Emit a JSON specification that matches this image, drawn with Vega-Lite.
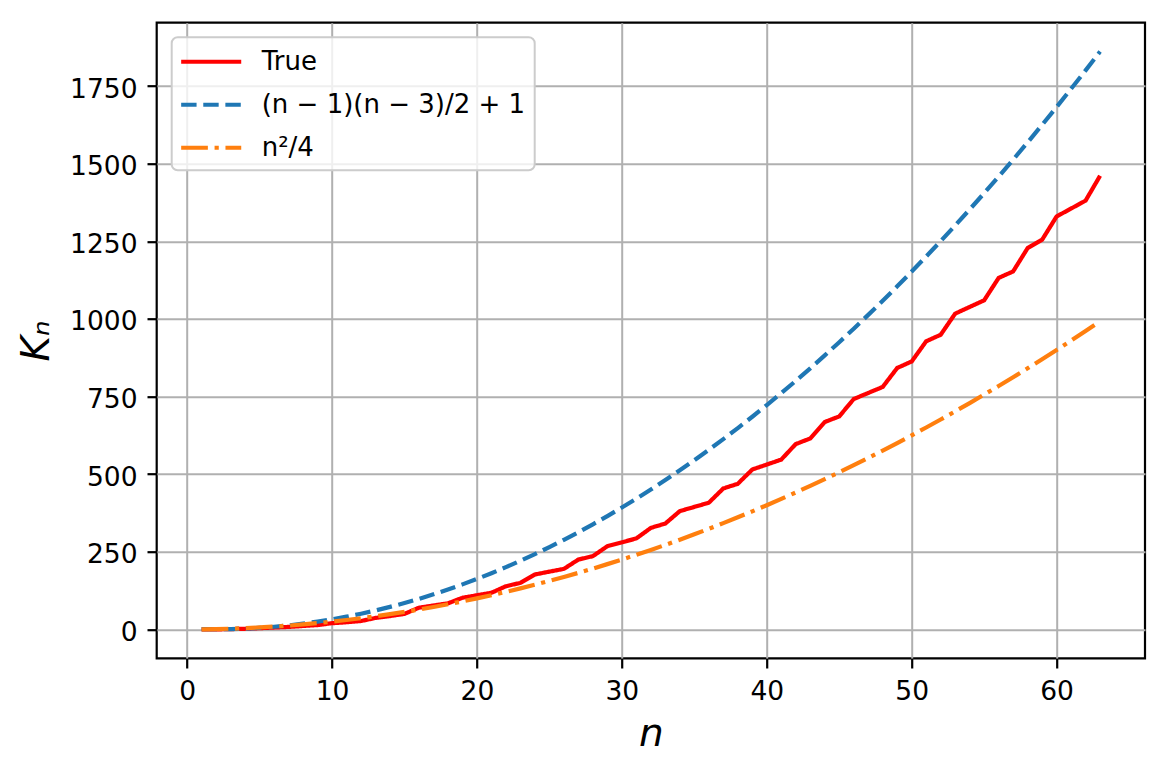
{
  "$schema": "https://vega.github.io/schema/vega-lite/v6.json",
  "autosize": {"type": "none"},
  "padding": {"left": 156.7, "top": 22.7, "right": 23, "bottom": 112.7},
  "width": 988.3,
  "height": 635.6,
  "background": "white",
  "config": {
    "font": "DejaVu Sans",
    "view": {"stroke": "black", "strokeWidth": 2.2},
    "axis": {
      "domain": false,
      "grid": true,
      "gridColor": "#b0b0b0",
      "gridWidth": 2,
      "tickColor": "black",
      "tickWidth": 2.2,
      "tickSize": 9.7,
      "labelFont": "DejaVu Sans",
      "labelFontSize": 26.5,
      "labelColor": "black",
      "titleFont": "DejaVu Sans",
      "titleFontSize": 39,
      "titleFontStyle": "italic",
      "titleFontWeight": "normal",
      "titleColor": "black"
    }
  },
  "data": {
    "values": [
      {"n": 1, "series": "a", "K": 0},
      {"n": 2, "series": "a", "K": 0},
      {"n": 3, "series": "a", "K": 1},
      {"n": 4, "series": "a", "K": 2},
      {"n": 5, "series": "a", "K": 4},
      {"n": 6, "series": "a", "K": 6},
      {"n": 7, "series": "a", "K": 8},
      {"n": 8, "series": "a", "K": 11},
      {"n": 9, "series": "a", "K": 14},
      {"n": 10, "series": "a", "K": 20},
      {"n": 11, "series": "a", "K": 23},
      {"n": 12, "series": "a", "K": 27},
      {"n": 13, "series": "a", "K": 37},
      {"n": 14, "series": "a", "K": 43},
      {"n": 15, "series": "a", "K": 50},
      {"n": 16, "series": "a", "K": 70},
      {"n": 18, "series": "a", "K": 84},
      {"n": 19, "series": "a", "K": 102},
      {"n": 21, "series": "a", "K": 118},
      {"n": 22, "series": "a", "K": 139},
      {"n": 23, "series": "a", "K": 150},
      {"n": 24, "series": "a", "K": 177},
      {"n": 26, "series": "a", "K": 195},
      {"n": 27, "series": "a", "K": 225},
      {"n": 28, "series": "a", "K": 236},
      {"n": 29, "series": "a", "K": 268},
      {"n": 31, "series": "a", "K": 293},
      {"n": 32, "series": "a", "K": 327},
      {"n": 33, "series": "a", "K": 341},
      {"n": 34, "series": "a", "K": 381},
      {"n": 36, "series": "a", "K": 408},
      {"n": 37, "series": "a", "K": 454},
      {"n": 38, "series": "a", "K": 469},
      {"n": 39, "series": "a", "K": 515},
      {"n": 41, "series": "a", "K": 547},
      {"n": 42, "series": "a", "K": 597},
      {"n": 43, "series": "a", "K": 615},
      {"n": 44, "series": "a", "K": 668},
      {"n": 45, "series": "a", "K": 686},
      {"n": 46, "series": "a", "K": 742},
      {"n": 48, "series": "a", "K": 781},
      {"n": 49, "series": "a", "K": 842},
      {"n": 50, "series": "a", "K": 863},
      {"n": 51, "series": "a", "K": 928},
      {"n": 52, "series": "a", "K": 949},
      {"n": 53, "series": "a", "K": 1017},
      {"n": 55, "series": "a", "K": 1060},
      {"n": 56, "series": "a", "K": 1132},
      {"n": 57, "series": "a", "K": 1153},
      {"n": 58, "series": "a", "K": 1228},
      {"n": 59, "series": "a", "K": 1255},
      {"n": 60, "series": "a", "K": 1330},
      {"n": 62, "series": "a", "K": 1381},
      {"n": 63, "series": "a", "K": 1461},

      {"n": 1, "series": "b", "K": 1},
      {"n": 2, "series": "b", "K": 0.5},
      {"n": 3, "series": "b", "K": 1},
      {"n": 4, "series": "b", "K": 2.5},
      {"n": 5, "series": "b", "K": 5},
      {"n": 6, "series": "b", "K": 8.5},
      {"n": 7, "series": "b", "K": 13},
      {"n": 8, "series": "b", "K": 18.5},
      {"n": 9, "series": "b", "K": 25},
      {"n": 10, "series": "b", "K": 32.5},
      {"n": 11, "series": "b", "K": 41},
      {"n": 12, "series": "b", "K": 50.5},
      {"n": 13, "series": "b", "K": 61},
      {"n": 14, "series": "b", "K": 72.5},
      {"n": 15, "series": "b", "K": 85},
      {"n": 16, "series": "b", "K": 98.5},
      {"n": 17, "series": "b", "K": 113},
      {"n": 18, "series": "b", "K": 128.5},
      {"n": 19, "series": "b", "K": 145},
      {"n": 20, "series": "b", "K": 162.5},
      {"n": 21, "series": "b", "K": 181},
      {"n": 22, "series": "b", "K": 200.5},
      {"n": 23, "series": "b", "K": 221},
      {"n": 24, "series": "b", "K": 242.5},
      {"n": 25, "series": "b", "K": 265},
      {"n": 26, "series": "b", "K": 288.5},
      {"n": 27, "series": "b", "K": 313},
      {"n": 28, "series": "b", "K": 338.5},
      {"n": 29, "series": "b", "K": 365},
      {"n": 30, "series": "b", "K": 392.5},
      {"n": 31, "series": "b", "K": 421},
      {"n": 32, "series": "b", "K": 450.5},
      {"n": 33, "series": "b", "K": 481},
      {"n": 34, "series": "b", "K": 512.5},
      {"n": 35, "series": "b", "K": 545},
      {"n": 36, "series": "b", "K": 578.5},
      {"n": 37, "series": "b", "K": 613},
      {"n": 38, "series": "b", "K": 648.5},
      {"n": 39, "series": "b", "K": 685},
      {"n": 40, "series": "b", "K": 722.5},
      {"n": 41, "series": "b", "K": 761},
      {"n": 42, "series": "b", "K": 800.5},
      {"n": 43, "series": "b", "K": 841},
      {"n": 44, "series": "b", "K": 882.5},
      {"n": 45, "series": "b", "K": 925},
      {"n": 46, "series": "b", "K": 968.5},
      {"n": 47, "series": "b", "K": 1013},
      {"n": 48, "series": "b", "K": 1058.5},
      {"n": 49, "series": "b", "K": 1105},
      {"n": 50, "series": "b", "K": 1152.5},
      {"n": 51, "series": "b", "K": 1201},
      {"n": 52, "series": "b", "K": 1250.5},
      {"n": 53, "series": "b", "K": 1301},
      {"n": 54, "series": "b", "K": 1352.5},
      {"n": 55, "series": "b", "K": 1405},
      {"n": 56, "series": "b", "K": 1458.5},
      {"n": 57, "series": "b", "K": 1513},
      {"n": 58, "series": "b", "K": 1568.5},
      {"n": 59, "series": "b", "K": 1625},
      {"n": 60, "series": "b", "K": 1682.5},
      {"n": 61, "series": "b", "K": 1741},
      {"n": 62, "series": "b", "K": 1800.5},
      {"n": 63, "series": "b", "K": 1861},

      {"n": 1, "series": "c", "K": 0.25},
      {"n": 2, "series": "c", "K": 1},
      {"n": 3, "series": "c", "K": 2.25},
      {"n": 4, "series": "c", "K": 4},
      {"n": 5, "series": "c", "K": 6.25},
      {"n": 6, "series": "c", "K": 9},
      {"n": 7, "series": "c", "K": 12.25},
      {"n": 8, "series": "c", "K": 16},
      {"n": 9, "series": "c", "K": 20.25},
      {"n": 10, "series": "c", "K": 25},
      {"n": 11, "series": "c", "K": 30.25},
      {"n": 12, "series": "c", "K": 36},
      {"n": 13, "series": "c", "K": 42.25},
      {"n": 14, "series": "c", "K": 49},
      {"n": 15, "series": "c", "K": 56.25},
      {"n": 16, "series": "c", "K": 64},
      {"n": 17, "series": "c", "K": 72.25},
      {"n": 18, "series": "c", "K": 81},
      {"n": 19, "series": "c", "K": 90.25},
      {"n": 20, "series": "c", "K": 100},
      {"n": 21, "series": "c", "K": 110.25},
      {"n": 22, "series": "c", "K": 121},
      {"n": 23, "series": "c", "K": 132.25},
      {"n": 24, "series": "c", "K": 144},
      {"n": 25, "series": "c", "K": 156.25},
      {"n": 26, "series": "c", "K": 169},
      {"n": 27, "series": "c", "K": 182.25},
      {"n": 28, "series": "c", "K": 196},
      {"n": 29, "series": "c", "K": 210.25},
      {"n": 30, "series": "c", "K": 225},
      {"n": 31, "series": "c", "K": 240.25},
      {"n": 32, "series": "c", "K": 256},
      {"n": 33, "series": "c", "K": 272.25},
      {"n": 34, "series": "c", "K": 289},
      {"n": 35, "series": "c", "K": 306.25},
      {"n": 36, "series": "c", "K": 324},
      {"n": 37, "series": "c", "K": 342.25},
      {"n": 38, "series": "c", "K": 361},
      {"n": 39, "series": "c", "K": 380.25},
      {"n": 40, "series": "c", "K": 400},
      {"n": 41, "series": "c", "K": 420.25},
      {"n": 42, "series": "c", "K": 441},
      {"n": 43, "series": "c", "K": 462.25},
      {"n": 44, "series": "c", "K": 484},
      {"n": 45, "series": "c", "K": 506.25},
      {"n": 46, "series": "c", "K": 529},
      {"n": 47, "series": "c", "K": 552.25},
      {"n": 48, "series": "c", "K": 576},
      {"n": 49, "series": "c", "K": 600.25},
      {"n": 50, "series": "c", "K": 625},
      {"n": 51, "series": "c", "K": 650.25},
      {"n": 52, "series": "c", "K": 676},
      {"n": 53, "series": "c", "K": 702.25},
      {"n": 54, "series": "c", "K": 729},
      {"n": 55, "series": "c", "K": 756.25},
      {"n": 56, "series": "c", "K": 784},
      {"n": 57, "series": "c", "K": 812.25},
      {"n": 58, "series": "c", "K": 841},
      {"n": 59, "series": "c", "K": 870.25},
      {"n": 60, "series": "c", "K": 900},
      {"n": 61, "series": "c", "K": 930.25},
      {"n": 62, "series": "c", "K": 961},
      {"n": 63, "series": "c", "K": 992.25}
    ]
  },
  "encoding": {
    "x": {
      "field": "n", "type": "quantitative",
      "scale": {"domain": [-2.1, 66.1], "zero": false, "nice": false},
      "axis": {"values": [0, 10, 20, 30, 40, 50, 60], "title": "n", "labelPadding": 10, "titleBaseline": "alphabetic", "titleY": 86.7}
    },
    "y": {
      "field": "K", "type": "quantitative",
      "scale": {"domain": [-93.05, 1954.05], "zero": false, "nice": false},
      "axis": {"values": [0, 250, 500, 750, 1000, 1250, 1500, 1750], "format": "d", "title": "Kₙ", "labelPadding": 10, "labelOffset": 3, "titleBaseline": "alphabetic", "titleX": -108.7}
    },
    "color": {
      "field": "series", "type": "nominal",
      "scale": {"domain": ["a", "b", "c"], "range": ["#ff0000", "#1f77b4", "#ff7f0e"]},
      "legend": {
        "title": null,
        "orient": "none",
        "legendX": 15,
        "legendY": 14.6,
        "padding": 9,
        "fillColor": "rgba(255,255,255,0.8)",
        "strokeColor": "#cccccc",
        "cornerRadius": 6,
        "symbolType": "M-2.27,0H2.27",
        "symbolSize": 700,
        "symbolOffset": 15,
        "symbolStrokeWidth": 4,
        "labelFont": "DejaVu Sans",
        "labelFontSize": 26,
        "labelColor": "black",
        "labelOffset": 35,
        "labelLimit": 0,
        "rowPadding": 14,
        "labelExpr": "datum.value == 'a' ? 'True' : datum.value == 'b' ? '(n − 1)(n − 3)/2 + 1' : 'n²/4'",
        "encode": {"legend": {"update": {"strokeWidth": {"value": 2}}}}
      }
    },
    "strokeDash": {
      "field": "series", "type": "nominal",
      "scale": {"domain": ["a", "b", "c"], "range": [[1, 0], [15.4, 6.7], [26.7, 6.7, 4.2, 6.7]]}
    }
  },
  "layer": [
    {"transform": [{"filter": {"field": "series", "equal": "a"}}], "mark": {"type": "line", "strokeWidth": 4.2}},
    {"transform": [{"filter": {"field": "series", "equal": "b"}}], "mark": {"type": "line", "strokeWidth": 4.2}},
    {"transform": [{"filter": {"field": "series", "equal": "c"}}], "mark": {"type": "line", "strokeWidth": 4.2}}
  ]
}
